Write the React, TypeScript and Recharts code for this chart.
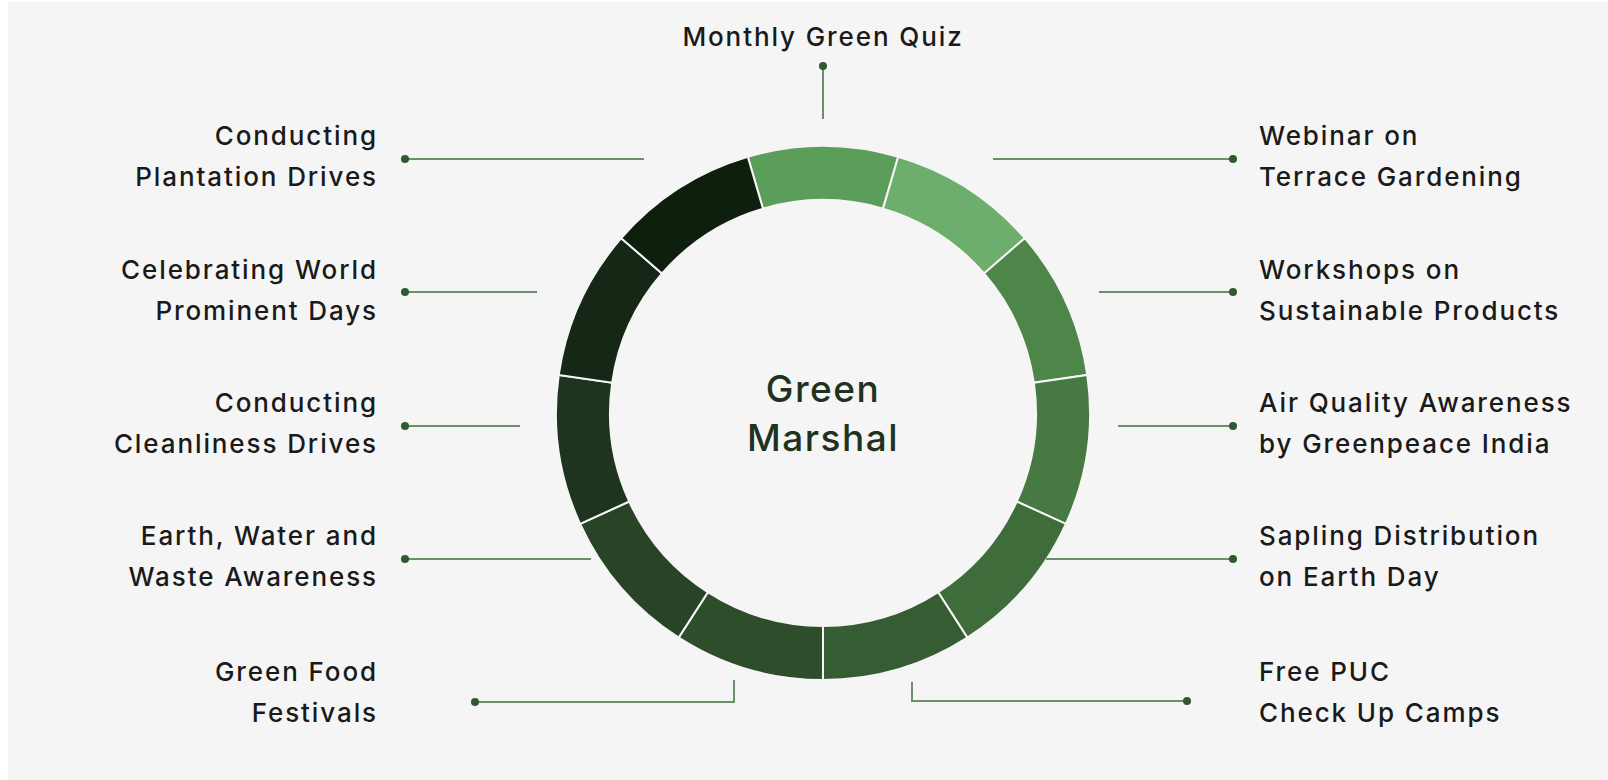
import { PieChart, Pie, Cell } from "recharts";

// activities, clockwise from the top segment
const activities = [
  "Monthly Green Quiz",
  "Webinar on\nTerrace Gardening",
  "Workshops on\nSustainable Products",
  "Air Quality Awareness\nby Greenpeace India",
  "Sapling Distribution\non Earth Day",
  "Free PUC\nCheck Up Camps",
  "Green Food\nFestivals",
  "Earth, Water and\nWaste Awareness",
  "Conducting\nCleanliness Drives",
  "Celebrating World\nProminent Days",
  "Conducting\nPlantation Drives",
];
const shares = [1, 1, 1, 1, 1, 1, 1, 1, 1, 1, 1];
const shades = [
  "#5a9e5a",
  "#6dae6d",
  "#4e8549",
  "#477a42",
  "#3e6d3b",
  "#365c33",
  "#2e4d2b",
  "#284326",
  "#1f341e",
  "#172716",
  "#0f1f0e",
];
const centerTitle = ["Green", "Marshal"];

const data = activities.map((name, i) => ({ name, value: shares[i] }));

const CX = 815;
const CY = 411;

// callout layout, offsets from the pie centre
type Callout = {
  anchor: "start" | "middle" | "end";
  tx: number;
  ty: number;
  path: [number, number][];
};
const callouts: Callout[] = [
  { anchor: "middle", tx: 0, ty: -377, path: [[0, -347], [0, -294]] },
  { anchor: "start", tx: 436, ty: -278, path: [[410, -254], [170, -254]] },
  { anchor: "start", tx: 436, ty: -144, path: [[410, -121], [276, -121]] },
  { anchor: "start", tx: 436, ty: -11, path: [[410, 13], [295, 13]] },
  { anchor: "start", tx: 436, ty: 122, path: [[410, 146], [223, 146]] },
  { anchor: "start", tx: 436, ty: 258, path: [[364, 288], [89, 288], [89, 269]] },
  { anchor: "end", tx: -447, ty: 258, path: [[-348, 289], [-89, 289], [-89, 267]] },
  { anchor: "end", tx: -447, ty: 122, path: [[-418, 146], [-232, 146]] },
  { anchor: "end", tx: -447, ty: -11, path: [[-418, 13], [-303, 13]] },
  { anchor: "end", tx: -447, ty: -144, path: [[-418, -121], [-286, -121]] },
  { anchor: "end", tx: -447, ty: -278, path: [[-418, -254], [-179, -254]] },
];

const FONT = "Inter, 'Noto Sans', sans-serif";
const LINE_H = 41;

function renderCallout(props: any) {
  const { cx, cy, index } = props;
  const c = callouts[index];
  if (!c) return null;
  const pts = c.path.map(([x, y]) => `${cx + x},${cy + y}`).join(" ");
  const [dx, dy] = c.path[0];
  const lines = activities[index].split("\n");
  // text-anchor end with letter spacing leaves a trailing gap, so nudge it back
  const shift = c.anchor === "end" ? 2 : 0;
  return (
    <g key={`callout-${index}`}>
      <polyline points={pts} fill="none" stroke="#6a8f6a" strokeWidth={2} />
      <circle cx={cx + dx} cy={cy + dy} r={4} fill="#2f5a30" />
      {lines.map((line, k) => (
        <text
          key={k}
          x={cx + c.tx + shift}
          y={cy + c.ty + k * LINE_H}
          textAnchor={c.anchor}
          dominantBaseline="central"
          fontFamily={FONT}
          fontWeight={500}
          fontSize={26}
          letterSpacing={1.9}
          fill="#1a1a1a"
        >
          {line}
        </text>
      ))}
      {index === 0 &&
        centerTitle.map((t, k) => (
          <text
            key={`c${k}`}
            x={cx}
            y={cy - 25 + k * 49}
            textAnchor="middle"
            dominantBaseline="central"
            fontFamily={FONT}
            fontWeight={500}
            fontSize={37}
            letterSpacing={1.5}
            fill="#1d3320"
          >
            {t}
          </text>
        ))}
    </g>
  );
}

export default function App() {
  return (
    <div
      style={{
        position: "absolute",
        left: 0,
        top: 0,
        width: 1608,
        height: 780,
        background: "#ffffff",
      }}
    >
      <div
        style={{
          position: "absolute",
          left: 8,
          top: 2,
          width: 1600,
          height: 778,
          background: "#f5f5f5",
        }}
      >
        <PieChart width={1600} height={778} margin={{ top: 0, right: 0, bottom: 0, left: 0 }}>
          <Pie
            data={data}
            dataKey="value"
            nameKey="name"
            cx={CX}
            cy={CY}
            innerRadius={213}
            outerRadius={267}
            startAngle={90 + 180 / 11}
            endAngle={90 + 180 / 11 - 360}
            stroke="#f5f5f5"
            strokeWidth={2}
            label={renderCallout}
            labelLine={false}
            isAnimationActive={false}
          >
            {data.map((_, i) => (
              <Cell key={i} fill={shades[i]} />
            ))}
          </Pie>
        </PieChart>
      </div>
    </div>
  );
}
